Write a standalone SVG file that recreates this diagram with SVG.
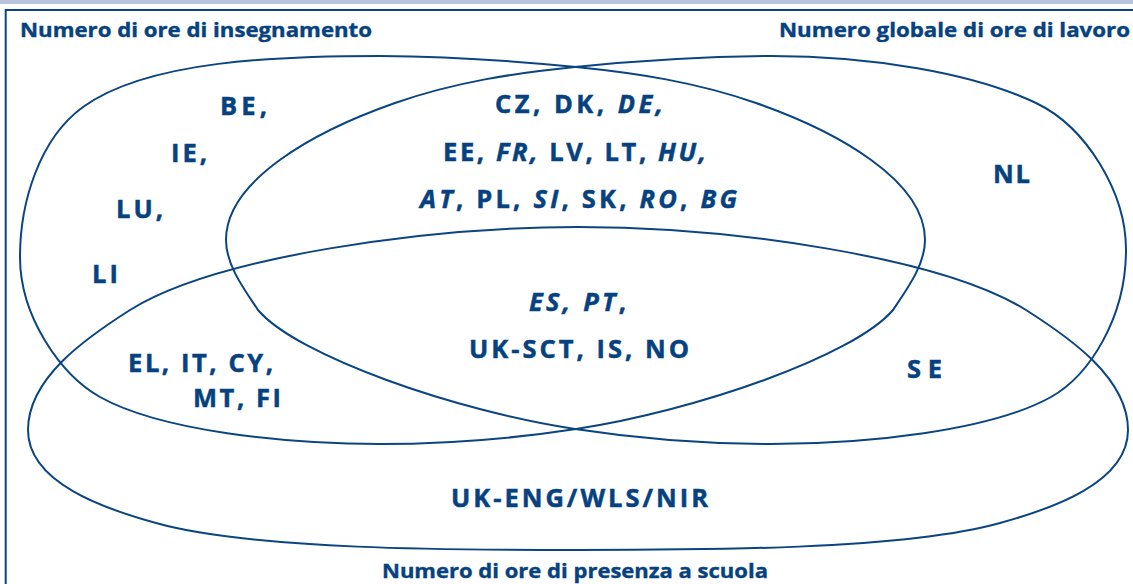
<svg xmlns="http://www.w3.org/2000/svg" width="1133" height="584" viewBox="0 0 1133 584">
<style>
.frame{stroke:#0a4582;stroke-width:2;fill:none}
.set{stroke:#0a4582;stroke-width:2;fill:none}
.title{font-family:"Open Sans","Noto Sans",sans-serif;font-weight:bold;font-size:20px;fill:#06427f;stroke:#06427f;stroke-width:0.4}
.lbl{font-family:"Open Sans","Noto Sans",sans-serif;font-weight:bold;font-size:25.5px;fill:#06427f;stroke:#06427f;stroke-width:0.5}
.it{font-style:italic}
</style>
<rect x="0" y="0" width="1133" height="4" fill="#b8c3dc"/>
<g id="frame">
<line class="frame" x1="5.7" y1="10" x2="1133" y2="10"/>
<line class="frame" x1="5.7" y1="9" x2="5.7" y2="584"/>
</g>
<g id="connectors">
<path id="set-insegnamento" class="set" d="M 20,257 C 20,203 39,139 83,107 C 148,60 280,56 380,56 C 445,56.5 511,60.5 576,67 C 636,73 696,82 756,103 C 836,131 925,180 925,240 C 925,265 907,289 893,310 C 854,356 695,411 576,429 C 511,439 445,444 380,444 C 285,444 161,431 100,397 C 61,375 20,317 20,257 Z"/>
<path id="set-lavoro" class="set" d="M 1126,250 C 1126,193 1087,127.5 1036,103 C 973,73 871,56 771,56 C 706,56.5 640,60.5 575,67 C 515,73 455,82 395,103 C 315,131 226,180 226,240 C 226,265 244,289 258,310 C 297,356 456,411 575,429 C 640,439 706,444 771,444 C 866,444 990,431 1051,397 C 1090,375 1126,317 1126,250 Z"/>
<path id="set-presenza" class="set" d="M 578,227 C 731,227 941,257 1026,310 C 1070,338 1128,378 1128,430 C 1128,483 1051,509 1000,523 C 904,550 700,550 578,550 C 456,550 252,550 156,523 C 105,509 28,483 28,430 C 28,378 86,338 130,310 C 215,257 425,227 578,227 Z"/>
</g>
<g id="title-insegnamento"><text class="title" x="20" y="37" textLength="352" lengthAdjust="spacingAndGlyphs">Numero di ore di insegnamento</text></g>
<g id="title-lavoro"><text class="title" x="779" y="37" textLength="351" lengthAdjust="spacingAndGlyphs">Numero globale di ore di lavoro</text></g>
<g id="title-presenza"><text class="title" x="382" y="578" textLength="386" lengthAdjust="spacingAndGlyphs">Numero di ore di presenza a scuola</text></g>
<g id="only-insegnamento">
<text class="lbl" x="220" y="115" textLength="47" lengthAdjust="spacing">BE,</text>
<text class="lbl" x="171" y="162" textLength="36" lengthAdjust="spacing">IE,</text>
<text class="lbl" x="116" y="218" textLength="47" lengthAdjust="spacing">LU,</text>
<text class="lbl" x="92" y="283" textLength="26" lengthAdjust="spacing">LI</text>
</g>
<g id="insegnamento-lavoro">
<text class="lbl" x="495" y="113" textLength="168" lengthAdjust="spacing">CZ, DK, <tspan class="it">DE,</tspan></text>
<text class="lbl" x="443" y="161" textLength="263" lengthAdjust="spacing">EE, <tspan class="it">FR,</tspan> LV, LT, <tspan class="it">HU,</tspan></text>
<text class="lbl" x="420" y="208" textLength="317" lengthAdjust="spacing"><tspan class="it">AT</tspan>, PL, <tspan class="it">SI</tspan>, SK, <tspan class="it">RO</tspan>, <tspan class="it">BG</tspan></text>
</g>
<g id="only-lavoro"><text class="lbl" x="993" y="183" textLength="37" lengthAdjust="spacing">NL</text></g>
<g id="all-three">
<text class="lbl" x="529" y="311" textLength="97" lengthAdjust="spacing"><tspan class="it">ES, PT</tspan>,</text>
<text class="lbl" x="469" y="358" textLength="220" lengthAdjust="spacing">UK-SCT, IS, NO</text>
</g>
<g id="insegnamento-presenza">
<text class="lbl" x="128" y="372" textLength="145" lengthAdjust="spacing">EL, IT, CY,</text>
<text class="lbl" x="193" y="407" textLength="88" lengthAdjust="spacing">MT, FI</text>
</g>
<g id="lavoro-presenza"><text class="lbl" x="907" y="378" textLength="35" lengthAdjust="spacing">SE</text></g>
<g id="only-presenza"><text class="lbl" x="451" y="507" textLength="257" lengthAdjust="spacing">UK-ENG/WLS/NIR</text></g>
</svg>
